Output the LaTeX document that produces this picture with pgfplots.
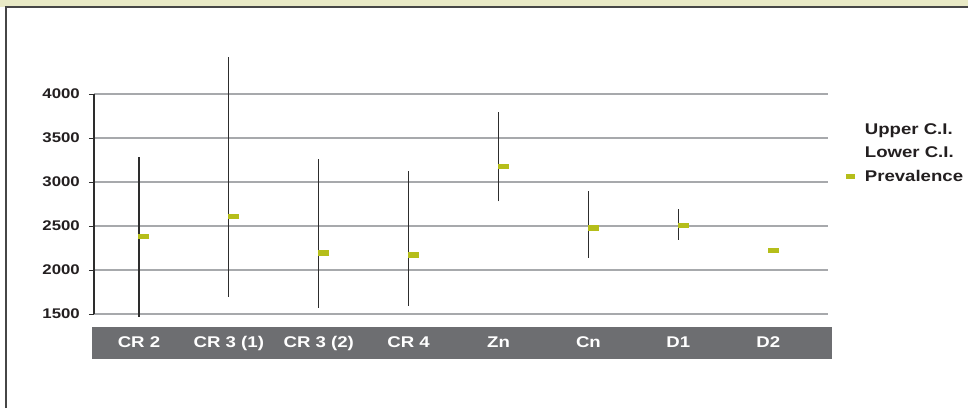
\documentclass[border=0pt]{standalone}
\usepackage{fontspec}
\setmainfont{Liberation Sans}[FakeStretch=1.2]
\usepackage{pgfplots}
\usepackage{pgfplotstable}
\pgfplotsset{compat=1.18}
\definecolor{prevgreen}{RGB}{181,190,26}
\definecolor{bandgray}{RGB}{109,110,113}
\definecolor{gridgray}{RGB}{167,169,172}
\definecolor{txtdark}{RGB}{35,31,32}
\definecolor{linedark}{RGB}{45,45,45}
\definecolor{framedark}{RGB}{70,70,70}
\definecolor{topstrip}{RGB}{233,234,198}

\pgfplotstableread{
x lo hi
0 1470 3281
1 1697 4417
2 1572 3258
3 1595 3125
4 2780 3795
5 2140 2894
6 2341 2690
}\citable

\pgfplotstableread{
x prev
0 2378
1 2606
2 2193
3 2170
4 3174
5 2477
6 2503
7 2220
}\prevtable

\begin{document}
\begin{tikzpicture}
\path[use as bounding box] (-94pt,-94pt) rectangle (874pt,314pt);
\fill[topstrip] (-94pt,307pt) rectangle (874pt,314pt);
\draw[framedark, line width=1.5pt] (-88pt,-94pt) -- (-88pt,307pt) -- (874pt,307pt);
\fill[bandgray] (-2pt,-13pt) rectangle (738pt,-45pt);
\begin{axis}[
  scale only axis, width=734pt, height=220pt,
  at={(0pt,0pt)}, anchor=south west,
  xmin=-0.5, xmax=7.665, ymin=1500, ymax=4000,
  clip=false,
  axis x line*=bottom, axis y line*=left,
  x axis line style={draw=gridgray, line width=1.2pt, -},
  y axis line style={draw=linedark, line width=1.2pt, -},
  ymajorgrids, grid style={gridgray, line width=1.2pt},
  ytick={1500,2000,2500,3000,3500,4000},
  tick align=outside, major tick length=5pt,
  ytick style={linedark, line width=1pt},
  xtick={0,1,2,3,4,5,6,7},
  xticklabels={CR 2,CR 3 (1),CR 3 (2),CR 4,Zn,Cn,D1,D2},
  xtick style={draw=none},
  /pgf/number format/assume math mode=true,
  /pgf/number format/1000 sep={},
  yticklabel style={font=\bfseries\fontsize{14}{16}\selectfont, text=txtdark, inner sep=0pt, xshift=-9pt},
  xticklabel style={font=\bfseries\fontsize{15.5}{17}\selectfont, text=white, anchor=base, yshift=-28.5pt},
  legend style={draw=none, fill=none, at={(1.0145,0.885)}, anchor=north west,
    font=\bfseries\fontsize{15.5}{18}\selectfont, text=txtdark, row sep=7pt,
    /tikz/every odd column/.append style={column sep=8pt}},
  legend cell align=left,
]
\addlegendimage{legend image code/.code={}}
\addlegendentry{Upper C.I.}
\addlegendimage{legend image code/.code={}}
\addlegendentry{Lower C.I.}
\addlegendimage{only marks, mark=-, mark size=4.5pt, mark options={line width=4.5pt, prevgreen}}
\addlegendentry{Prevalence}
\addplot[draw=none, mark=none, forget plot,
  error bars/.cd, y dir=plus, y explicit, error mark=none,
  error bar style={linedark, line width=1.3pt}]
  table[x=x, y=lo, y error expr=\thisrow{hi}-\thisrow{lo}] {\citable};
\addplot[only marks, forget plot, mark=-, mark size=5.5pt,
  mark options={line width=5.5pt, prevgreen, xshift=5pt}]
  table[x=x, y=prev] {\prevtable};
\pgfplotsinvokeforeach{-0.5,0.5,1.5,2.5,3.5,4.5,5.5,6.5,7.5}{
  \draw[linedark, line width=1pt] (axis cs:#1,1500) ++(0,-5pt) -- ++(0,10pt);
}
\end{axis}
\end{tikzpicture}
\end{document}
